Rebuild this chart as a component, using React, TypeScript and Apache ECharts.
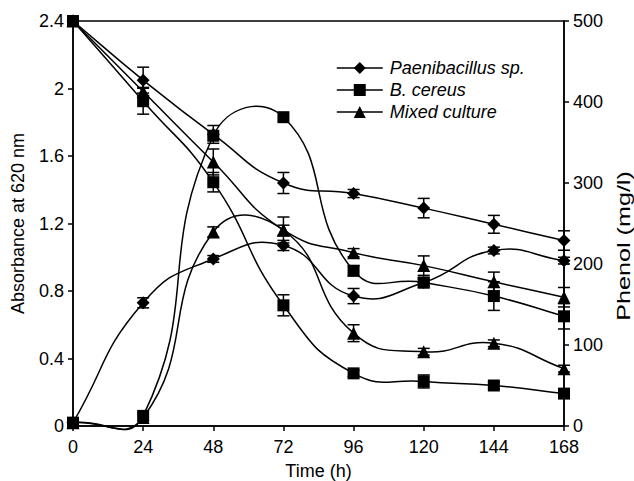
import React, { useEffect, useRef } from "react";
import * as echarts from "echarts";

const times = [0, 24, 48, 72, 96, 120, 144, 168];
const seriesNames = ["Paenibacillus sp.", "B. cereus", "Mixed culture"];
const symbols = ["diamond", "rect", "triangle"];
const symbolSizes = [13, 12, 13];

// Absorbance at 620 nm (left axis)
const absPaeni = [0.02, 0.73, 0.99, 1.07, 0.77, 0.85, 1.04, 0.98];
const absCereus = [0.02, 0.06, 1.72, 1.83, 0.92, 0.85, 0.77, 0.65];
const absMixed = [0.02, 0.05, 1.15, 1.16, 0.55, 0.44, 0.49, 0.34];
const absPaeniErr = [0, 0.03, 0.02, 0.03, 0.045, 0.03, 0.02, 0.02];
const absCereusErr = [0, 0, 0, 0, 0.03, 0.02, 0.085, 0.075];
const absMixedErr = [0, 0, 0.03, 0.03, 0.05, 0.02, 0.02, 0.02];

// Phenol (mg/l) (right axis)
const phenPaeni = [500, 427, 360, 300, 287, 269, 249, 229];
const phenCereus = [500, 401, 301, 149, 65, 55, 50, 40];
const phenMixed = [500, 413, 326, 242, 214, 198, 178, 159];
const phenPaeniErr = [0, 16, 11, 13, 5, 12, 11, 12];
const phenCereusErr = [0, 16, 12, 13, 4, 8, 4, 0];
const phenMixedErr = [0, 5, 16, 16, 5, 12, 12, 12];

const absTicks = ["0", "0.4", "0.8", "1.2", "1.6", "2", "2.4"];

const FONT = "Liberation Sans, Arial, sans-serif";
const SMOOTH = 0.5;

function pairs(vals: number[]) {
  return vals.map((v, i) => [times[i], v]);
}
function errData(vals: number[], errs: number[]) {
  return vals
    .map((v, i) => (errs[i] > 0 ? [times[i], v - errs[i], v + errs[i]] : null))
    .filter((d) => d !== null);
}

const renderErr = (params: any, api: any) => {
  const x = api.value(0);
  const lo = api.value(1);
  const hi = api.value(2);
  const p1 = api.coord([x, hi]);
  const p2 = api.coord([x, lo]);
  const w = 6;
  const st = { stroke: "#000", lineWidth: 1.5 };
  return {
    type: "group",
    children: [
      { type: "line", shape: { x1: p1[0], y1: p1[1], x2: p2[0], y2: p2[1] }, style: st },
      { type: "line", shape: { x1: p1[0] - w, y1: p1[1], x2: p1[0] + w, y2: p1[1] }, style: st },
      { type: "line", shape: { x1: p2[0] - w, y1: p2[1], x2: p2[0] + w, y2: p2[1] }, style: st },
    ],
  };
};

// Spreadsheet-style smoothed curve drawn through the data points (via axis scales)
function makeCurve(vals: number[], yAxisIndex: number) {
  return {
    type: "custom",
    yAxisIndex,
    silent: true,
    clip: false,
    z: 2,
    data: pairs(vals),
    renderItem: (params: any, api: any) => {
      if (params.dataIndex !== 0) return null;
      const pts = vals.map((v, i) => api.coord([times[i], v]));
      const n = pts.length;
      const cin: number[][] = [];
      const cout: number[][] = [];
      for (let i = 0; i < n; i++) {
        const cur = pts[i];
        const prev = i > 0 ? pts[i - 1] : cur;
        const next = i < n - 1 ? pts[i + 1] : cur;
        const vx = (next[0] - prev[0]) * SMOOTH;
        const vy = (next[1] - prev[1]) * SMOOTH;
        const lp = Math.hypot(cur[0] - prev[0], cur[1] - prev[1]);
        const ln = Math.hypot(next[0] - cur[0], next[1] - cur[1]);
        const sum = lp + ln || 1;
        const rn = ln / sum;
        const rp = lp / sum;
        cout.push([cur[0] + vx * rn, cur[1] + vy * rn]);
        cin.push([cur[0] - vx * rp, cur[1] - vy * rp]);
      }
      const children: any[] = [];
      for (let i = 0; i < n - 1; i++) {
        children.push({
          type: "bezierCurve",
          shape: {
            x1: pts[i][0],
            y1: pts[i][1],
            x2: pts[i + 1][0],
            y2: pts[i + 1][1],
            cpx1: cout[i][0],
            cpy1: cout[i][1],
            cpx2: cin[i + 1][0],
            cpy2: cin[i + 1][1],
          },
          style: { stroke: "#000", lineWidth: 1.5, fill: null },
        });
      }
      return { type: "group", children };
    },
  };
}

export default function App() {
  const ref = useRef<HTMLDivElement>(null);
  useEffect(() => {
    if (!ref.current) return;
    const chart = echarts.init(ref.current, null, { renderer: "svg" });
    const absSets = [absPaeni, absCereus, absMixed];
    const absErrs = [absPaeniErr, absCereusErr, absMixedErr];
    const phenSets = [phenPaeni, phenCereus, phenMixed];
    const phenErrs = [phenPaeniErr, phenCereusErr, phenMixedErr];
    const series: any[] = [];
    for (let k = 0; k < 3; k++) {
      series.push({
        type: "line",
        name: seriesNames[k],
        yAxisIndex: 1,
        data: pairs(phenSets[k]),
        symbol: symbols[k],
        symbolSize: symbolSizes[k],
        lineStyle: { color: "#000", width: 1.5, opacity: 0 },
        itemStyle: { color: "#000" },
        z: 5,
      });
      series.push({
        type: "line",
        name: seriesNames[k],
        yAxisIndex: 0,
        data: pairs(absSets[k]),
        symbol: symbols[k],
        symbolSize: symbolSizes[k],
        lineStyle: { color: "#000", width: 1.5, opacity: 0 },
        itemStyle: { color: "#000" },
        z: 5,
      });
      series.push(makeCurve(phenSets[k], 1));
      series.push(makeCurve(absSets[k], 0));
      series.push({
        type: "custom",
        yAxisIndex: 1,
        data: errData(phenSets[k], phenErrs[k]),
        renderItem: renderErr,
        z: 4,
      });
      series.push({
        type: "custom",
        yAxisIndex: 0,
        data: errData(absSets[k], absErrs[k]),
        renderItem: renderErr,
        z: 4,
      });
    }
    chart.setOption({
      animation: false,
      backgroundColor: "#fff",
      textStyle: { fontFamily: FONT },
      grid: {
        left: 73,
        right: 70,
        top: 21,
        bottom: 55,
        outerBoundsMode: "none",
        containLabel: false,
        show: true,
        borderColor: "#000",
        borderWidth: 1.5,
        backgroundColor: "transparent",
      },
      legend: {
        data: seriesNames,
        orient: "vertical",
        left: 331,
        top: 54,
        itemWidth: 46,
        itemHeight: 15,
        itemGap: 4,
        lineStyle: { color: "#000", width: 1.5, opacity: 1 },
        itemStyle: { color: "#000" },
        textStyle: { fontFamily: FONT, fontSize: 18, fontStyle: "italic", color: "#000", padding: [0, 0, 0, 2] },
      },
      graphic: [
        {
          type: "text",
          x: 624,
          y: 246,
          rotation: Math.PI / 2,
          scaleX: 1.4,
          style: {
            text: "Phenol (mg/l)",
            font: "18px Liberation Sans, Arial, sans-serif",
            fill: "#000",
            textAlign: "center",
            textVerticalAlign: "middle",
          },
        },
      ],
      xAxis: {
        type: "value",
        min: 0,
        max: 168,
        interval: 24,
        name: "Time (h)",
        nameLocation: "middle",
        nameGap: 36,
        nameTextStyle: { fontFamily: FONT, fontSize: 18, lineHeight: 18, color: "#000" },
        axisLine: { show: true, lineStyle: { color: "#000", width: 1.5 } },
        axisTick: { show: true, inside: false, length: 5, lineStyle: { color: "#000", width: 1.5 } },
        axisLabel: { fontFamily: FONT, fontSize: 18, color: "#000", margin: 12 },
        splitLine: { show: false },
      },
      yAxis: [
        {
          type: "value",
          min: 0,
          max: 2.4,
          interval: 0.4,
          position: "left",
          name: "Absorbance at 620 nm",
          nameLocation: "middle",
          nameGap: 46,
          nameTextStyle: { fontFamily: FONT, fontSize: 18, color: "#000" },
          axisLine: { show: true, lineStyle: { color: "#000", width: 1.5 } },
          axisTick: { show: true, length: 5, lineStyle: { color: "#000", width: 1.5 } },
          axisLabel: {
            fontFamily: FONT,
            fontSize: 18,
            color: "#000",
            margin: 9,
            formatter: (v: number) => absTicks[Math.round(v / 0.4)] ?? String(v),
          },
          splitLine: { show: false },
        },
        {
          type: "value",
          min: 0,
          max: 500,
          interval: 100,
          position: "right",
          axisLine: { show: true, lineStyle: { color: "#000", width: 1.5 } },
          axisTick: { show: true, length: 5, lineStyle: { color: "#000", width: 1.5 } },
          axisLabel: { fontFamily: FONT, fontSize: 18, color: "#000", margin: 9 },
          splitLine: { show: false },
        },
      ],
      series,
    });
    return () => chart.dispose();
  }, []);
  return (
    <div
      ref={ref}
      style={{ position: "absolute", left: 0, top: 0, width: 634, height: 481, background: "#fff" }}
    />
  );
}
